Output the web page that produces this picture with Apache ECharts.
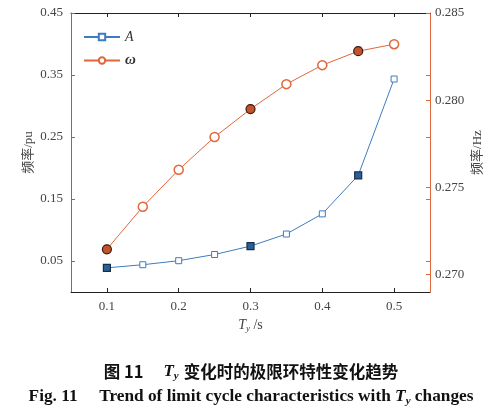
<!DOCTYPE html>
<html>
<head>
<meta charset="utf-8">
<script src="https://cdn.jsdelivr.net/npm/echarts@6/dist/echarts.min.js"></script>
<style>
html,body{margin:0;padding:0;background:#fff;}
#main{width:502px;height:410px;}
</style>
</head>
<body>
<div id="main"></div>
<script>
// 横轴 Ty/s
var tyList = [0.1, 0.15, 0.2, 0.25, 0.3, 0.35, 0.4, 0.45, 0.5];
// 幅值 A (左轴, pu)
var ampList = [0.039, 0.044, 0.0505, 0.0605, 0.074, 0.0935, 0.126, 0.188, 0.3435];
// 频率 ω (右轴, Hz)
var omegaList = [0.27145, 0.27389, 0.27601, 0.27789, 0.27949, 0.28092, 0.28201, 0.28281, 0.28321];
// 实心标记的点
var markIdx = [0, 4, 7];
// 刻度
var xTicks = [0.1, 0.2, 0.3, 0.4, 0.5];
var leftTicks = [0.05, 0.15, 0.25, 0.35, 0.45];
var rightTicks = [0.270, 0.275, 0.280, 0.285];

var blue = '#3d7cc0';
var orange = '#e0663c';
var serif = '"Liberation Serif","Noto Sans CJK SC",serif';

function buildData(vals, fill, edge, size){
	var arr = [];
	for(var i=0;i<tyList.length;i++){
		var obj = {value:[tyList[i], vals[i]]};
		if(markIdx.indexOf(i) != -1){
			obj.itemStyle = {color:fill, borderColor:edge, borderWidth:1.2};
			obj.symbolSize = size;
		}
		arr.push(obj);
	}
	return arr;
}

var myChart = echarts.init(document.getElementById('main'));
var option = {
	animation:false,
	title:[{
		text:'{cn|图 11}    {ti|T}{sub|y} {cn|变化时的极限环特性变化趋势}',
		left:'center', top:357,
		textStyle:{rich:{
			cn:{fontFamily:'"Noto Sans CJK SC"', fontWeight:'bold', fontSize:16.5, color:'#111'},
			ti:{fontFamily:serif, fontStyle:'italic', fontSize:17, color:'#111'},
			sub:{fontFamily:serif, fontStyle:'italic', fontSize:11, color:'#111', padding:[9,0,0,0]}
		}}
	},{
		text:'{b|Fig. 11     Trend of limit cycle characteristics with }{ti|T}{sub|y}{b| changes}',
		left:'center', top:382,
		textStyle:{rich:{
			b:{fontFamily:serif, fontWeight:'bold', fontSize:17.3, color:'#111'},
			ti:{fontFamily:serif, fontWeight:'bold', fontStyle:'italic', fontSize:17.3, color:'#111'},
			sub:{fontFamily:serif, fontWeight:'bold', fontStyle:'italic', fontSize:11, color:'#111', padding:[9,0,0,0]}
		}}
	}],
	legend:{
		orient:'vertical', left:78, top:25, itemGap:9,
		itemWidth:36, itemHeight:8,
		data:[
			{name:'A', textStyle:{fontStyle:'italic', fontFamily:serif, fontSize:14, color:'#333'}},
			{name:'ω', textStyle:{fontStyle:'italic', fontWeight:'bold', fontFamily:serif, fontSize:15, color:'#333'}}
		]
	},
	grid:{left:71, right:72, top:13, bottom:118},
	xAxis:[{
		type:'value', min:0.05, max:0.55, position:'bottom',
		name:'{t|T}{s|y}{n| /s}', nameLocation:'middle', nameGap:23,
		nameTextStyle:{rich:{
			t:{fontFamily:serif, fontStyle:'italic', fontSize:14, color:'#444'},
			s:{fontFamily:serif, fontStyle:'italic', fontSize:9, color:'#444', padding:[8,0,0,0]},
			n:{fontFamily:serif, fontSize:14, color:'#444'}
		}},
		axisLine:{onZero:false, lineStyle:{color:'#222', width:1}},
		axisTick:{inside:true, length:4, customValues:xTicks, lineStyle:{color:'#222'}},
		axisLabel:{customValues:xTicks, fontFamily:serif, fontSize:13, color:'#444', margin:8},
		splitLine:{show:false}
	},{
		type:'value', min:0.05, max:0.55, position:'top',
		axisLine:{onZero:false, lineStyle:{color:'#222', width:1}},
		axisTick:{inside:true, length:4, customValues:xTicks, lineStyle:{color:'#222'}},
		axisLabel:{show:false},
		splitLine:{show:false}
	}],
	yAxis:[{
		type:'value', min:0, max:0.45, position:'left',
		name:'频率/pu', nameLocation:'middle', nameGap:36, nameRotate:90, nameMoveOverlap:false,
		nameTextStyle:{fontFamily:serif, fontSize:13, color:'#444'},
		axisLine:{show:true, onZero:false, lineStyle:{color:blue, width:1}},
		axisTick:{show:true, inside:true, length:4, customValues:leftTicks, lineStyle:{color:blue}},
		axisLabel:{customValues:leftTicks, fontFamily:serif, fontSize:13, color:'#444', margin:8,
			formatter:function(v){return v.toFixed(2);}},
		splitLine:{show:false}
	},{
		type:'value', min:0.269, max:0.285, position:'right',
		name:'频率/Hz', nameLocation:'middle', nameGap:41, nameRotate:90, nameMoveOverlap:false,
		nameTextStyle:{fontFamily:serif, fontSize:13, color:'#444'},
		axisLine:{show:true, onZero:false, lineStyle:{color:orange, width:1}},
		axisTick:{show:true, inside:true, length:4, customValues:rightTicks, lineStyle:{color:orange}},
		axisLabel:{customValues:rightTicks, fontFamily:serif, fontSize:13, color:'#444', margin:5,
			formatter:function(v){return v.toFixed(3);}},
		splitLine:{show:false}
	},{
		// 右侧补充刻度
		type:'value', min:0, max:0.45, position:'right',
		axisLine:{show:false},
		axisTick:{show:true, inside:true, length:4, customValues:[0.05,0.15,0.25,0.35], lineStyle:{color:orange}},
		axisLabel:{show:false},
		splitLine:{show:false}
	}],
	series:[{
		name:'A', type:'line', xAxisIndex:0, yAxisIndex:0,
		symbol:'rect', symbolSize:6,
		itemStyle:{color:'#fff', borderColor:blue, borderWidth:1},
		lineStyle:{color:blue, width:1},
		data:buildData(ampList, '#2b5f95', '#14304f', 7),
		z:3
	},{
		name:'ω', type:'line', xAxisIndex:0, yAxisIndex:1,
		symbol:'circle', symbolSize:9,
		itemStyle:{color:'#fff', borderColor:orange, borderWidth:1.5},
		lineStyle:{color:orange, width:1},
		data:buildData(omegaList, '#c2532b', '#3a1a10', 9),
		z:4
	}]
};
myChart.setOption(option);
</script>
</body>
</html>
